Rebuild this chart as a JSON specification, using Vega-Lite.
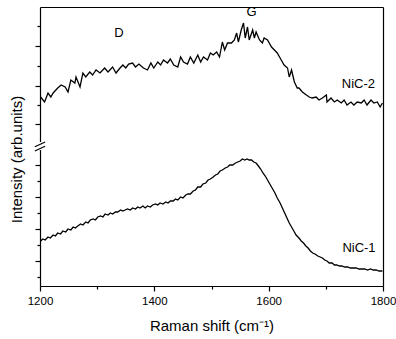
{
  "$schema": "https://vega.github.io/schema/vega-lite/v6.json",
  "width": 343,
  "height": 279,
  "autosize": "none",
  "padding": {"left": 40, "top": 7, "right": 13, "bottom": 53},
  "background": "white",
  "config": {
    "view": {"stroke": null},
    "font": "Liberation Sans",
    "axis": {"domainColor": "black", "tickColor": "black", "labelColor": "black", "titleColor": "black", "grid": false, "titleFontWeight": "normal", "labelFont": "Liberation Sans", "titleFont": "Liberation Sans", "domainWidth": 1.2, "tickWidth": 1.2}
  },
  "datasets": {
    "spectra": [
      {"series": "NiC-2", "wn": 1201, "intensity": 189}, {"series": "NiC-2", "wn": 1208, "intensity": 184}, {"series": "NiC-2", "wn": 1214, "intensity": 193}, {"series": "NiC-2", "wn": 1219, "intensity": 189}, {"series": "NiC-2", "wn": 1223, "intensity": 193}, {"series": "NiC-2", "wn": 1231, "intensity": 198}, {"series": "NiC-2", "wn": 1237, "intensity": 201}, {"series": "NiC-2", "wn": 1244, "intensity": 199}, {"series": "NiC-2", "wn": 1249, "intensity": 194}, {"series": "NiC-2", "wn": 1254, "intensity": 206}, {"series": "NiC-2", "wn": 1261, "intensity": 203}, {"series": "NiC-2", "wn": 1263, "intensity": 209}, {"series": "NiC-2", "wn": 1270, "intensity": 199}, {"series": "NiC-2", "wn": 1275, "intensity": 213}, {"series": "NiC-2", "wn": 1280, "intensity": 209}, {"series": "NiC-2", "wn": 1287, "intensity": 214}, {"series": "NiC-2", "wn": 1292, "intensity": 211}, {"series": "NiC-2", "wn": 1298, "intensity": 216}, {"series": "NiC-2", "wn": 1305, "intensity": 213}, {"series": "NiC-2", "wn": 1313, "intensity": 218}, {"series": "NiC-2", "wn": 1319, "intensity": 214}, {"series": "NiC-2", "wn": 1327, "intensity": 219}, {"series": "NiC-2", "wn": 1333, "intensity": 213}, {"series": "NiC-2", "wn": 1340, "intensity": 218}, {"series": "NiC-2", "wn": 1345, "intensity": 221}, {"series": "NiC-2", "wn": 1350, "intensity": 218}, {"series": "NiC-2", "wn": 1355, "intensity": 222}, {"series": "NiC-2", "wn": 1362, "intensity": 223}, {"series": "NiC-2", "wn": 1367, "intensity": 219}, {"series": "NiC-2", "wn": 1373, "intensity": 222}, {"series": "NiC-2", "wn": 1381, "intensity": 218}, {"series": "NiC-2", "wn": 1388, "intensity": 216}, {"series": "NiC-2", "wn": 1394, "intensity": 223}, {"series": "NiC-2", "wn": 1399, "intensity": 218}, {"series": "NiC-2", "wn": 1406, "intensity": 224}, {"series": "NiC-2", "wn": 1411, "intensity": 221}, {"series": "NiC-2", "wn": 1416, "intensity": 226}, {"series": "NiC-2", "wn": 1423, "intensity": 223}, {"series": "NiC-2", "wn": 1428, "intensity": 227}, {"series": "NiC-2", "wn": 1434, "intensity": 221}, {"series": "NiC-2", "wn": 1441, "intensity": 219}, {"series": "NiC-2", "wn": 1446, "intensity": 229}, {"series": "NiC-2", "wn": 1451, "intensity": 224}, {"series": "NiC-2", "wn": 1458, "intensity": 222}, {"series": "NiC-2", "wn": 1463, "intensity": 229}, {"series": "NiC-2", "wn": 1469, "intensity": 223}, {"series": "NiC-2", "wn": 1476, "intensity": 231}, {"series": "NiC-2", "wn": 1481, "intensity": 224}, {"series": "NiC-2", "wn": 1486, "intensity": 229}, {"series": "NiC-2", "wn": 1493, "intensity": 226}, {"series": "NiC-2", "wn": 1498, "intensity": 233}, {"series": "NiC-2", "wn": 1503, "intensity": 231}, {"series": "NiC-2", "wn": 1509, "intensity": 234}, {"series": "NiC-2", "wn": 1514, "intensity": 229}, {"series": "NiC-2", "wn": 1519, "intensity": 244}, {"series": "NiC-2", "wn": 1523, "intensity": 236}, {"series": "NiC-2", "wn": 1528, "intensity": 243}, {"series": "NiC-2", "wn": 1535, "intensity": 243}, {"series": "NiC-2", "wn": 1540, "intensity": 246}, {"series": "NiC-2", "wn": 1544, "intensity": 253}, {"series": "NiC-2", "wn": 1547, "intensity": 244}, {"series": "NiC-2", "wn": 1552, "intensity": 256}, {"series": "NiC-2", "wn": 1556, "intensity": 263}, {"series": "NiC-2", "wn": 1559, "intensity": 248}, {"series": "NiC-2", "wn": 1563, "intensity": 259}, {"series": "NiC-2", "wn": 1566, "intensity": 246}, {"series": "NiC-2", "wn": 1572, "intensity": 256}, {"series": "NiC-2", "wn": 1575, "intensity": 248}, {"series": "NiC-2", "wn": 1578, "intensity": 254}, {"series": "NiC-2", "wn": 1584, "intensity": 246}, {"series": "NiC-2", "wn": 1589, "intensity": 243}, {"series": "NiC-2", "wn": 1592, "intensity": 248}, {"series": "NiC-2", "wn": 1598, "intensity": 246}, {"series": "NiC-2", "wn": 1605, "intensity": 239}, {"series": "NiC-2", "wn": 1610, "intensity": 236}, {"series": "NiC-2", "wn": 1615, "intensity": 233}, {"series": "NiC-2", "wn": 1622, "intensity": 226}, {"series": "NiC-2", "wn": 1627, "intensity": 221}, {"series": "NiC-2", "wn": 1633, "intensity": 218}, {"series": "NiC-2", "wn": 1636, "intensity": 209}, {"series": "NiC-2", "wn": 1640, "intensity": 216}, {"series": "NiC-2", "wn": 1645, "intensity": 204}, {"series": "NiC-2", "wn": 1650, "intensity": 198}, {"series": "NiC-2", "wn": 1653, "intensity": 198}, {"series": "NiC-2", "wn": 1659, "intensity": 194}, {"series": "NiC-2", "wn": 1666, "intensity": 191}, {"series": "NiC-2", "wn": 1671, "intensity": 189}, {"series": "NiC-2", "wn": 1676, "intensity": 188}, {"series": "NiC-2", "wn": 1683, "intensity": 189}, {"series": "NiC-2", "wn": 1688, "intensity": 186}, {"series": "NiC-2", "wn": 1694, "intensity": 188}, {"series": "NiC-2", "wn": 1701, "intensity": 191}, {"series": "NiC-2", "wn": 1702, "intensity": 184}, {"series": "NiC-2", "wn": 1709, "intensity": 188}, {"series": "NiC-2", "wn": 1715, "intensity": 184}, {"series": "NiC-2", "wn": 1720, "intensity": 186}, {"series": "NiC-2", "wn": 1727, "intensity": 183}, {"series": "NiC-2", "wn": 1732, "intensity": 186}, {"series": "NiC-2", "wn": 1737, "intensity": 181}, {"series": "NiC-2", "wn": 1744, "intensity": 184}, {"series": "NiC-2", "wn": 1749, "intensity": 181}, {"series": "NiC-2", "wn": 1755, "intensity": 184}, {"series": "NiC-2", "wn": 1762, "intensity": 183}, {"series": "NiC-2", "wn": 1767, "intensity": 186}, {"series": "NiC-2", "wn": 1772, "intensity": 181}, {"series": "NiC-2", "wn": 1779, "intensity": 186}, {"series": "NiC-2", "wn": 1784, "intensity": 183}, {"series": "NiC-2", "wn": 1790, "intensity": 184}, {"series": "NiC-2", "wn": 1795, "intensity": 179}, {"series": "NiC-2", "wn": 1799, "intensity": 183},
      {"series": "NiC-1", "wn": 1201, "intensity": 45}, {"series": "NiC-1", "wn": 1205, "intensity": 47}, {"series": "NiC-1", "wn": 1209, "intensity": 46}, {"series": "NiC-1", "wn": 1214, "intensity": 49}, {"series": "NiC-1", "wn": 1218, "intensity": 48}, {"series": "NiC-1", "wn": 1223, "intensity": 51}, {"series": "NiC-1", "wn": 1227, "intensity": 50}, {"series": "NiC-1", "wn": 1231, "intensity": 53}, {"series": "NiC-1", "wn": 1236, "intensity": 52}, {"series": "NiC-1", "wn": 1240, "intensity": 55}, {"series": "NiC-1", "wn": 1245, "intensity": 54}, {"series": "NiC-1", "wn": 1249, "intensity": 57}, {"series": "NiC-1", "wn": 1254, "intensity": 56}, {"series": "NiC-1", "wn": 1258, "intensity": 59}, {"series": "NiC-1", "wn": 1262, "intensity": 58}, {"series": "NiC-1", "wn": 1266, "intensity": 60}, {"series": "NiC-1", "wn": 1271, "intensity": 62}, {"series": "NiC-1", "wn": 1275, "intensity": 61}, {"series": "NiC-1", "wn": 1280, "intensity": 64}, {"series": "NiC-1", "wn": 1284, "intensity": 63}, {"series": "NiC-1", "wn": 1288, "intensity": 66}, {"series": "NiC-1", "wn": 1293, "intensity": 67}, {"series": "NiC-1", "wn": 1297, "intensity": 66}, {"series": "NiC-1", "wn": 1301, "intensity": 69}, {"series": "NiC-1", "wn": 1306, "intensity": 70}, {"series": "NiC-1", "wn": 1310, "intensity": 69}, {"series": "NiC-1", "wn": 1314, "intensity": 72}, {"series": "NiC-1", "wn": 1319, "intensity": 71}, {"series": "NiC-1", "wn": 1323, "intensity": 73}, {"series": "NiC-1", "wn": 1327, "intensity": 72}, {"series": "NiC-1", "wn": 1332, "intensity": 74}, {"series": "NiC-1", "wn": 1336, "intensity": 74}, {"series": "NiC-1", "wn": 1341, "intensity": 76}, {"series": "NiC-1", "wn": 1345, "intensity": 75}, {"series": "NiC-1", "wn": 1349, "intensity": 76}, {"series": "NiC-1", "wn": 1353, "intensity": 77}, {"series": "NiC-1", "wn": 1358, "intensity": 76}, {"series": "NiC-1", "wn": 1362, "intensity": 78}, {"series": "NiC-1", "wn": 1367, "intensity": 77}, {"series": "NiC-1", "wn": 1371, "intensity": 79}, {"series": "NiC-1", "wn": 1375, "intensity": 78}, {"series": "NiC-1", "wn": 1380, "intensity": 80}, {"series": "NiC-1", "wn": 1384, "intensity": 78}, {"series": "NiC-1", "wn": 1388, "intensity": 80}, {"series": "NiC-1", "wn": 1393, "intensity": 79}, {"series": "NiC-1", "wn": 1397, "intensity": 81}, {"series": "NiC-1", "wn": 1402, "intensity": 82}, {"series": "NiC-1", "wn": 1406, "intensity": 81}, {"series": "NiC-1", "wn": 1410, "intensity": 83}, {"series": "NiC-1", "wn": 1415, "intensity": 82}, {"series": "NiC-1", "wn": 1420, "intensity": 84}, {"series": "NiC-1", "wn": 1424, "intensity": 83}, {"series": "NiC-1", "wn": 1428, "intensity": 85}, {"series": "NiC-1", "wn": 1433, "intensity": 85}, {"series": "NiC-1", "wn": 1437, "intensity": 87}, {"series": "NiC-1", "wn": 1441, "intensity": 86}, {"series": "NiC-1", "wn": 1446, "intensity": 89}, {"series": "NiC-1", "wn": 1450, "intensity": 88}, {"series": "NiC-1", "wn": 1455, "intensity": 91}, {"series": "NiC-1", "wn": 1459, "intensity": 92}, {"series": "NiC-1", "wn": 1463, "intensity": 92}, {"series": "NiC-1", "wn": 1468, "intensity": 95}, {"series": "NiC-1", "wn": 1472, "intensity": 96}, {"series": "NiC-1", "wn": 1476, "intensity": 99}, {"series": "NiC-1", "wn": 1481, "intensity": 99}, {"series": "NiC-1", "wn": 1485, "intensity": 102}, {"series": "NiC-1", "wn": 1490, "intensity": 103}, {"series": "NiC-1", "wn": 1494, "intensity": 106}, {"series": "NiC-1", "wn": 1498, "intensity": 107}, {"series": "NiC-1", "wn": 1503, "intensity": 109}, {"series": "NiC-1", "wn": 1507, "intensity": 111}, {"series": "NiC-1", "wn": 1511, "intensity": 112}, {"series": "NiC-1", "wn": 1515, "intensity": 115}, {"series": "NiC-1", "wn": 1519, "intensity": 116}, {"series": "NiC-1", "wn": 1524, "intensity": 118}, {"series": "NiC-1", "wn": 1528, "intensity": 119}, {"series": "NiC-1", "wn": 1532, "intensity": 121}, {"series": "NiC-1", "wn": 1537, "intensity": 121}, {"series": "NiC-1", "wn": 1542, "intensity": 123}, {"series": "NiC-1", "wn": 1546, "intensity": 124}, {"series": "NiC-1", "wn": 1550, "intensity": 125}, {"series": "NiC-1", "wn": 1554, "intensity": 127}, {"series": "NiC-1", "wn": 1558, "intensity": 126}, {"series": "NiC-1", "wn": 1562, "intensity": 127}, {"series": "NiC-1", "wn": 1566, "intensity": 126}, {"series": "NiC-1", "wn": 1570, "intensity": 126}, {"series": "NiC-1", "wn": 1574, "intensity": 124}, {"series": "NiC-1", "wn": 1578, "intensity": 123}, {"series": "NiC-1", "wn": 1582, "intensity": 120}, {"series": "NiC-1", "wn": 1586, "intensity": 117}, {"series": "NiC-1", "wn": 1590, "intensity": 113}, {"series": "NiC-1", "wn": 1594, "intensity": 110}, {"series": "NiC-1", "wn": 1599, "intensity": 105}, {"series": "NiC-1", "wn": 1603, "intensity": 101}, {"series": "NiC-1", "wn": 1607, "intensity": 97}, {"series": "NiC-1", "wn": 1611, "intensity": 93}, {"series": "NiC-1", "wn": 1615, "intensity": 88}, {"series": "NiC-1", "wn": 1620, "intensity": 83}, {"series": "NiC-1", "wn": 1624, "intensity": 78}, {"series": "NiC-1", "wn": 1628, "intensity": 73}, {"series": "NiC-1", "wn": 1632, "intensity": 68}, {"series": "NiC-1", "wn": 1636, "intensity": 63}, {"series": "NiC-1", "wn": 1640, "intensity": 59}, {"series": "NiC-1", "wn": 1644, "intensity": 55}, {"series": "NiC-1", "wn": 1648, "intensity": 51}, {"series": "NiC-1", "wn": 1653, "intensity": 48}, {"series": "NiC-1", "wn": 1657, "intensity": 45}, {"series": "NiC-1", "wn": 1661, "intensity": 43}, {"series": "NiC-1", "wn": 1665, "intensity": 40}, {"series": "NiC-1", "wn": 1669, "intensity": 38}, {"series": "NiC-1", "wn": 1673, "intensity": 35}, {"series": "NiC-1", "wn": 1677, "intensity": 33}, {"series": "NiC-1", "wn": 1681, "intensity": 32}, {"series": "NiC-1", "wn": 1686, "intensity": 30}, {"series": "NiC-1", "wn": 1690, "intensity": 29}, {"series": "NiC-1", "wn": 1694, "intensity": 28}, {"series": "NiC-1", "wn": 1698, "intensity": 26}, {"series": "NiC-1", "wn": 1702, "intensity": 25}, {"series": "NiC-1", "wn": 1706, "intensity": 23}, {"series": "NiC-1", "wn": 1711, "intensity": 23}, {"series": "NiC-1", "wn": 1715, "intensity": 21}, {"series": "NiC-1", "wn": 1719, "intensity": 21}, {"series": "NiC-1", "wn": 1724, "intensity": 20}, {"series": "NiC-1", "wn": 1728, "intensity": 20}, {"series": "NiC-1", "wn": 1733, "intensity": 19}, {"series": "NiC-1", "wn": 1738, "intensity": 19}, {"series": "NiC-1", "wn": 1743, "intensity": 18}, {"series": "NiC-1", "wn": 1748, "intensity": 18}, {"series": "NiC-1", "wn": 1753, "intensity": 18}, {"series": "NiC-1", "wn": 1758, "intensity": 17}, {"series": "NiC-1", "wn": 1763, "intensity": 17}, {"series": "NiC-1", "wn": 1768, "intensity": 17}, {"series": "NiC-1", "wn": 1773, "intensity": 16}, {"series": "NiC-1", "wn": 1778, "intensity": 17}, {"series": "NiC-1", "wn": 1783, "intensity": 16}, {"series": "NiC-1", "wn": 1788, "intensity": 16}, {"series": "NiC-1", "wn": 1793, "intensity": 15}, {"series": "NiC-1", "wn": 1799, "intensity": 15}
    ],
    "labels": [
      {"label": "D", "wn": 1338, "intensity": 253},
      {"label": "G", "wn": 1570, "intensity": 274},
      {"label": "NiC-2", "wn": 1757, "intensity": 202},
      {"label": "NiC-1", "wn": 1758, "intensity": 38}
    ],
    "gap": [
      {"wn": 1200, "intensity": 136, "intensity2": 144}
    ],
    "slashes": [
      {"wn": 1191, "wn2": 1209, "intensity": 139.3, "intensity2": 144},
      {"wn": 1191, "wn2": 1209, "intensity": 135, "intensity2": 139.7}
    ]
  },
  "layer": [
    {
      "data": {"name": "spectra"},
      "mark": {"type": "line", "color": "black", "strokeWidth": 1.3, "clip": true},
      "encoding": {
        "x": {
          "field": "wn", "type": "quantitative",
          "scale": {"domain": [1200, 1800], "nice": false, "zero": false},
          "axis": {
            "orient": "bottom",
            "title": "Raman shift (cm⁻¹)",
            "titleFontSize": 15,
            "titlePadding": 12,
            "values": [1200, 1300, 1400, 1500, 1600, 1700, 1800],
            "labelExpr": "datum.value % 200 === 0 ? datum.label : ''",
            "labelFontSize": 11.5,
            "labelPadding": 4,
            "labelFlush": false,
            "format": "d",
            "tickSize": {"condition": {"test": "datum.value % 200 === 0", "value": 5}, "value": 3}
          }
        },
        "y": {
          "field": "intensity", "type": "quantitative",
          "scale": {"domain": [0, 279], "nice": false, "zero": false},
          "axis": {
            "orient": "left",
            "title": "Intensity (arb.units)",
            "titleFontSize": 15,
            "titlePadding": 10,
            "titleY": 152,
            "labels": false,
            "values": [9, 25, 41, 57, 73, 89, 105, 121, 162, 181, 200, 220, 240, 260],
            "tickSize": {"condition": {"test": "indexof([240, 200, 162, 121, 89, 57, 25], datum.value) >= 0", "value": 5}, "value": 3}
          }
        },
        "detail": {"field": "series"}
      }
    },
    {
      "data": {"name": "labels"},
      "mark": {"type": "text", "fontSize": 13, "fill": "black", "align": "center", "baseline": "middle", "font": "Liberation Sans"},
      "encoding": {
        "x": {"field": "wn", "type": "quantitative", "axis": {"orient": "top", "title": null, "labels": false, "ticks": false}},
        "y": {"field": "intensity", "type": "quantitative", "axis": {"orient": "right", "title": null, "labels": false, "ticks": false}},
        "text": {"field": "label"}
      }
    },
    {
      "data": {"name": "gap"},
      "mark": {"type": "rule", "color": "white", "strokeWidth": 3},
      "encoding": {
        "x": {"field": "wn", "type": "quantitative", "axis": null},
        "y": {"field": "intensity", "type": "quantitative", "axis": null},
        "y2": {"field": "intensity2"}
      }
    },
    {
      "data": {"name": "slashes"},
      "mark": {"type": "rule", "color": "black", "strokeWidth": 1.2},
      "encoding": {
        "x": {"field": "wn", "type": "quantitative", "axis": null},
        "x2": {"field": "wn2"},
        "y": {"field": "intensity", "type": "quantitative", "axis": null},
        "y2": {"field": "intensity2"}
      }
    }
  ],
  "resolve": {"axis": {"x": "independent", "y": "independent"}}
}
